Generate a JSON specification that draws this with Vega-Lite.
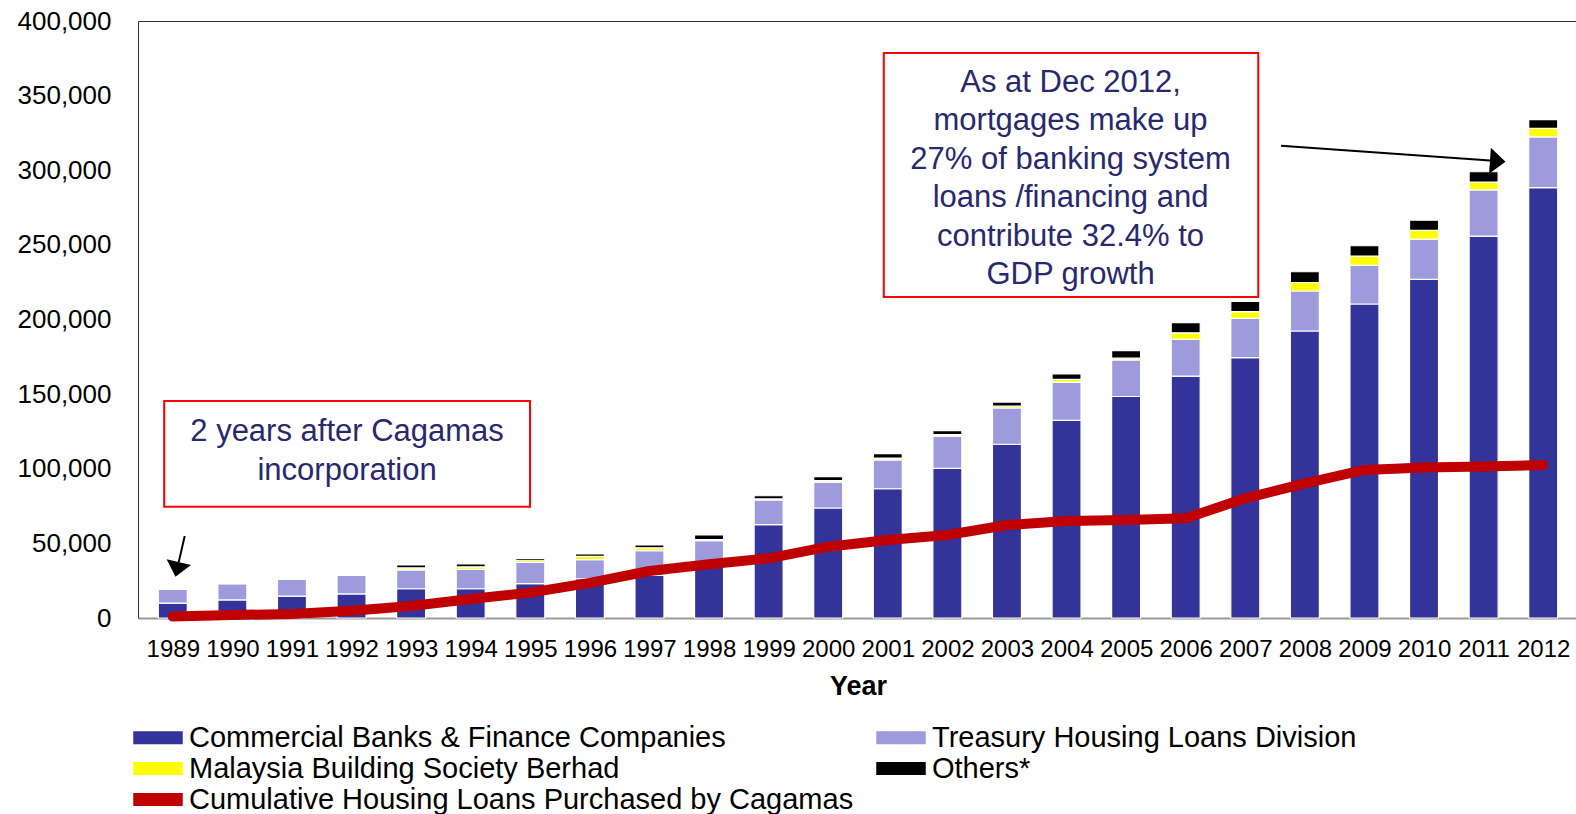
{
  "$schema": "https://vega.github.io/schema/vega-lite/v6.json",
  "autosize": {"type": "none"},
  "padding": {"left": 138, "top": 21, "right": 0, "bottom": 196},
  "width": 1440,
  "height": 597,
  "config": {
    "font": "Liberation Sans",
    "view": {"stroke": "#333333", "strokeWidth": 1},
    "axis": {"grid": false, "labelColor": "#000000", "titleColor": "#000000"}
  },
  "resolve": {"axis": {"x": "independent", "y": "independent"}},
  "datasets": {
    "loans": [
      {"year": 1989, "Commercial Banks & Finance Companies": 10000, "Treasury Housing Loans Division": 9400, "Malaysia Building Society Berhad": 0, "Others*": 0, "cum": 1000},
      {"year": 1990, "Commercial Banks & Finance Companies": 12100, "Treasury Housing Loans Division": 10900, "Malaysia Building Society Berhad": 0, "Others*": 0, "cum": 2000},
      {"year": 1991, "Commercial Banks & Finance Companies": 14700, "Treasury Housing Loans Division": 11300, "Malaysia Building Society Berhad": 800, "Others*": 0, "cum": 2700},
      {"year": 1992, "Commercial Banks & Finance Companies": 16100, "Treasury Housing Loans Division": 12500, "Malaysia Building Society Berhad": 400, "Others*": 0, "cum": 4900},
      {"year": 1993, "Commercial Banks & Finance Companies": 19600, "Treasury Housing Loans Division": 12600, "Malaysia Building Society Berhad": 1400, "Others*": 1900, "cum": 8000},
      {"year": 1994, "Commercial Banks & Finance Companies": 19600, "Treasury Housing Loans Division": 13000, "Malaysia Building Society Berhad": 1700, "Others*": 1900, "cum": 12700},
      {"year": 1995, "Commercial Banks & Finance Companies": 23000, "Treasury Housing Loans Division": 14300, "Malaysia Building Society Berhad": 1400, "Others*": 1300, "cum": 17000},
      {"year": 1996, "Commercial Banks & Finance Companies": 26300, "Treasury Housing Loans Division": 12800, "Malaysia Building Society Berhad": 2200, "Others*": 1600, "cum": 23500},
      {"year": 1997, "Commercial Banks & Finance Companies": 28500, "Treasury Housing Loans Division": 16600, "Malaysia Building Society Berhad": 1900, "Others*": 1900, "cum": 31500},
      {"year": 1998, "Commercial Banks & Finance Companies": 35500, "Treasury Housing Loans Division": 16300, "Malaysia Building Society Berhad": 800, "Others*": 3000, "cum": 36000},
      {"year": 1999, "Commercial Banks & Finance Companies": 62500, "Treasury Housing Loans Division": 16600, "Malaysia Building Society Berhad": 700, "Others*": 2100, "cum": 40000},
      {"year": 2000, "Commercial Banks & Finance Companies": 73700, "Treasury Housing Loans Division": 17400, "Malaysia Building Society Berhad": 1000, "Others*": 2600, "cum": 47800},
      {"year": 2001, "Commercial Banks & Finance Companies": 86600, "Treasury Housing Loans Division": 19300, "Malaysia Building Society Berhad": 1200, "Others*": 3000, "cum": 52300},
      {"year": 2002, "Commercial Banks & Finance Companies": 100300, "Treasury Housing Loans Division": 21600, "Malaysia Building Society Berhad": 1000, "Others*": 2600, "cum": 55600},
      {"year": 2003, "Commercial Banks & Finance Companies": 116400, "Treasury Housing Loans Division": 24300, "Malaysia Building Society Berhad": 1200, "Others*": 2800, "cum": 62300},
      {"year": 2004, "Commercial Banks & Finance Companies": 132400, "Treasury Housing Loans Division": 25700, "Malaysia Building Society Berhad": 1800, "Others*": 3600, "cum": 65000},
      {"year": 2005, "Commercial Banks & Finance Companies": 148400, "Treasury Housing Loans Division": 24500, "Malaysia Building Society Berhad": 1200, "Others*": 5000, "cum": 65700},
      {"year": 2006, "Commercial Banks & Finance Companies": 162100, "Treasury Housing Loans Division": 24600, "Malaysia Building Society Berhad": 4400, "Others*": 6800, "cum": 66800},
      {"year": 2007, "Commercial Banks & Finance Companies": 174400, "Treasury Housing Loans Division": 26400, "Malaysia Building Society Berhad": 4500, "Others*": 6900, "cum": 80200},
      {"year": 2008, "Commercial Banks & Finance Companies": 192300, "Treasury Housing Loans Division": 26800, "Malaysia Building Society Berhad": 5700, "Others*": 7200, "cum": 90200},
      {"year": 2009, "Commercial Banks & Finance Companies": 210400, "Treasury Housing Loans Division": 25900, "Malaysia Building Society Berhad": 6200, "Others*": 6900, "cum": 99200},
      {"year": 2010, "Commercial Banks & Finance Companies": 226900, "Treasury Housing Loans Division": 27000, "Malaysia Building Society Berhad": 5800, "Others*": 6800, "cum": 100800},
      {"year": 2011, "Commercial Banks & Finance Companies": 255900, "Treasury Housing Loans Division": 30900, "Malaysia Building Society Berhad": 5300, "Others*": 6900, "cum": 101500},
      {"year": 2012, "Commercial Banks & Finance Companies": 288400, "Treasury Housing Loans Division": 33900, "Malaysia Building Society Berhad": 5700, "Others*": 5900, "cum": 102500}
    ],
    "boxes": [
      {"x0": 1988.855, "x1": 1994.995, "y0": 74570, "y1": 145390},
      {"x0": 2000.933, "x1": 2007.217, "y0": 215070, "y1": 378550}
    ],
    "notes": [
      {"x": 1991.925, "y": 124300, "label": "2 years after Cagamas\nincorporation"},
      {"x": 2004.067, "y": 358600, "label": "As at Dec 2012,\nmortgages make up\n27% of banking system\nloans /financing and\ncontribute 32.4% to\nGDP growth"}
    ],
    "arrows": [
      {"x": 1989.2, "y": 54940, "x2": 1989.1, "y2": 37450},
      {"x": 2007.6, "y": 316440, "x2": 2011.107, "y2": 306460}
    ],
    "head1": [{"x": 1989.073, "y": 32560}],
    "head2": [{"x": 2011.237, "y": 306060}]
  },
  "layer": [
    {
      "data": {"name": "loans"},
      "transform": [
        {"fold": ["Commercial Banks & Finance Companies", "Treasury Housing Loans Division", "Malaysia Building Society Berhad", "Others*"], "as": ["series", "value"]},
        {"window": [{"op": "row_number", "as": "k"}], "groupby": ["year"]}
      ],
      "mark": {"type": "bar", "size": 29, "stroke": "#ffffff", "strokeWidth": 1.2},
      "encoding": {
        "x": {
          "field": "year", "type": "quantitative",
          "scale": {"domain": [1988.5, 2012.5], "nice": false, "zero": false},
          "axis": {
            "values": [1989, 1990, 1991, 1992, 1993, 1994, 1995, 1996, 1997, 1998, 1999, 2000, 2001, 2002, 2003, 2004, 2005, 2006, 2007, 2008, 2009, 2010, 2011, 2012],
            "format": "d", "labelAngle": 0, "labelFontSize": 24, "labelOverlap": false, "labelFlush": false,
            "ticks": false, "tickSize": 0, "labelPadding": 19,
            "domainColor": "#999999", "domainWidth": 2,
            "title": "Year", "titleFontSize": 27, "titleFontWeight": "bold", "titlePadding": 12
          }
        },
        "y": {
          "field": "value", "type": "quantitative", "stack": "zero",
          "scale": {"domain": [0, 400000], "nice": false},
          "axis": {
            "values": [0, 50000, 100000, 150000, 200000, 250000, 300000, 350000, 400000],
            "format": ",d", "labelFontSize": 26, "domain": false, "ticks": false, "tickSize": 0, "labelPadding": 27, "title": null
          }
        },
        "order": {"field": "k", "type": "quantitative", "sort": "ascending"},
        "color": {
          "field": "series", "type": "nominal",
          "sort": ["Commercial Banks & Finance Companies", "Treasury Housing Loans Division", "Malaysia Building Society Berhad", "Others*", "Cumulative Housing Loans Purchased by Cagamas"],
          "scale": {
            "domain": ["Commercial Banks & Finance Companies", "Treasury Housing Loans Division", "Malaysia Building Society Berhad", "Others*", "Cumulative Housing Loans Purchased by Cagamas"],
            "range": ["#333399", "#9D9BDC", "#FFFF00", "#000000", "#C00000"]
          },
          "legend": {
            "orient": "none", "legendX": -5, "legendY": 702, "title": null, "direction": "horizontal",
            "columns": 2, "columnPadding": 22, "rowPadding": 1, "padding": 0,
            "labelFontSize": 29, "labelColor": "#000000", "labelOffset": 6, "labelLimit": 0,
            "symbolSize": 2450, "symbolStrokeWidth": 0, "clipHeight": 29,
            "symbolType": "M-1,-0.26H1V0.26H-1Z"
          }
        }
      }
    },
    {
      "data": {"name": "loans"},
      "mark": {"type": "line", "color": "#C00000", "strokeWidth": 10, "strokeCap": "round", "strokeJoin": "round"},
      "encoding": {
        "x": {"field": "year", "type": "quantitative", "axis": null},
        "y": {"field": "cum", "type": "quantitative", "axis": null}
      }
    },
    {
      "data": {"name": "boxes"},
      "mark": {"type": "rect", "fill": "#ffffff", "stroke": "#FF0000", "strokeWidth": 2},
      "encoding": {
        "x": {"field": "x0", "type": "quantitative", "axis": null},
        "x2": {"field": "x1"},
        "y": {"field": "y0", "type": "quantitative", "axis": null},
        "y2": {"field": "y1"}
      }
    },
    {
      "data": {"name": "notes"},
      "mark": {"type": "text", "align": "center", "baseline": "middle", "fontSize": 31, "lineHeight": 38.5, "lineBreak": "\n", "color": "#28286E"},
      "encoding": {
        "x": {"field": "x", "type": "quantitative", "axis": null},
        "y": {"field": "y", "type": "quantitative", "axis": null},
        "text": {"field": "label"}
      }
    },
    {
      "data": {"name": "arrows"},
      "mark": {"type": "rule", "color": "#000000", "strokeWidth": 2},
      "encoding": {
        "x": {"field": "x", "type": "quantitative", "axis": null},
        "y": {"field": "y", "type": "quantitative", "axis": null},
        "x2": {"field": "x2"},
        "y2": {"field": "y2"}
      }
    },
    {
      "data": {"name": "head1"},
      "mark": {"type": "point", "shape": "M-1,-0.6L1,-0.6L0,0.6Z", "size": 625, "angle": 13, "filled": true, "color": "#000000", "opacity": 1},
      "encoding": {
        "x": {"field": "x", "type": "quantitative", "axis": null},
        "y": {"field": "y", "type": "quantitative", "axis": null}
      }
    },
    {
      "data": {"name": "head2"},
      "mark": {"type": "point", "shape": "M-0.6,-1L0.6,0L-0.6,1Z", "size": 676, "angle": 4, "filled": true, "color": "#000000", "opacity": 1},
      "encoding": {
        "x": {"field": "x", "type": "quantitative", "axis": null},
        "y": {"field": "y", "type": "quantitative", "axis": null}
      }
    }
  ]
}
